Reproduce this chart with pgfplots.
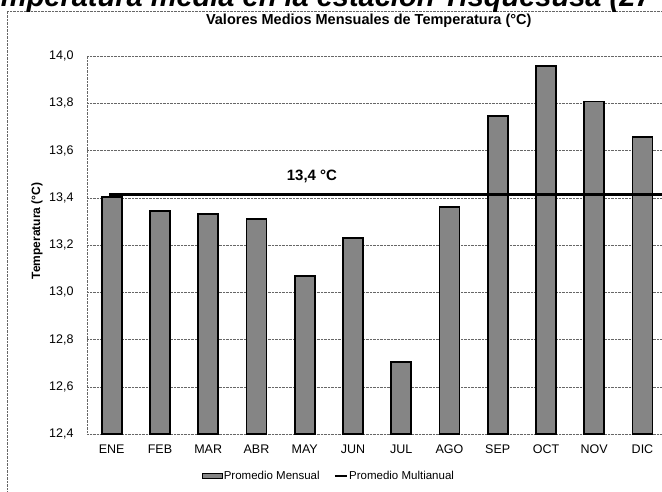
\documentclass[border=0pt]{standalone}
\usepackage{pgfplots}
\pgfplotsset{compat=1.18}
\usepackage{fontspec}
\setmainfont{Liberation Sans}
\begin{document}
\begin{tikzpicture}[x=1pt,y=1pt]
\begin{axis}[
  at={(87pt,57pt)}, anchor=south west,
  scale only axis, width=575pt, height=378pt,
  xmin=-0.512, xmax=11.404, ymin=12.4, ymax=14.0,
  xtick={0,...,11},
  xticklabels={ENE,FEB,MAR,ABR,MAY,JUN,JUL,AGO,SEP,OCT,NOV,DIC},
  ytick={12.4,12.6,...,14.01},
  /pgf/number format/assume math mode=true,
  /pgf/number format/.cd, use comma, fixed, fixed zerofill, precision=1, /pgfplots/.cd,
  ticklabel style={font=\fontsize{12.5}{14}\selectfont},
  yticklabel style={xshift=-10pt},
  xticklabel style={yshift=-7pt},
  major tick length=0pt,
  ymajorgrids, major grid style={densely dotted, black!60},
  axis line style={densely dotted, black!60},
  axis x line*=bottom, axis y line*=left,
  ylabel={\bfseries Temperatura (°C)},
  ylabel style={font=\fontsize{12}{14}\selectfont, at={(axis description cs:-0.087,0.537)}, anchor=center, rotate=0},
  title={\bfseries Valores Medios Mensuales de Temperatura (°C)},
  title style={font=\fontsize{14.5}{16}\selectfont, at={(axis description cs:0.49,1)}, anchor=center, yshift=29pt, inner sep=1pt},
  legend style={at={(axis description cs:0.2,-0.111)}, anchor=west, draw=none, fill=none, inner xsep=0pt, font=\fontsize{11.5}{13}\selectfont, legend columns=2, nodes={inner xsep=1pt}, /tikz/every even column/.append style={column sep=13pt}},
  legend image code/.code={\draw[#1, line width=0.6pt] (0pt,-2.5pt) rectangle (20pt,2.5pt);},
  clip=false,
]
\addplot[ybar, bar width=20pt, fill=black!48, draw=black, line width=1.8pt] coordinates {
(0,13.404) (1,13.345) (2,13.331) (3,13.309) (4,13.069) (5,13.228)
(6,12.706) (7,13.36) (8,13.746) (9,13.958) (10,13.807) (11,13.656)};
\addlegendentry{Promedio Mensual}
\addplot[black, line width=3.5pt, forget plot] coordinates {(-0.05,13.414) (11.404,13.414)};
\addlegendimage{legend image code/.code={\draw[black, line width=2.5pt] (0pt,0pt) -- (12pt,0pt);}}
\addlegendentry{Promedio Multianual}
\node[font=\bfseries\fontsize{15}{17}\selectfont] at (axis cs:4.15,13.492) {13,4 °C};
\end{axis}
\draw[densely dotted, black!60] (7,0) -- (7,480);
\draw[densely dotted, black!60] (7,480) -- (662,480);
\node[anchor=base west, font=\bfseries\itshape\fontsize{29}{32}\selectfont, inner sep=0] at (-32,484) {Temperatura media en la estación Tisquesusa (27};
\pgfresetboundingbox
\useasboundingbox (0,0) rectangle (662,491);
\end{tikzpicture}
\end{document}
